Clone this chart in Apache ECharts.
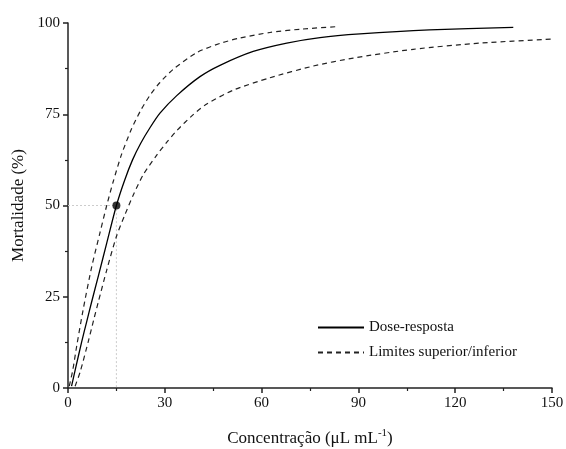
<!DOCTYPE html>
<html style="height: 100%">
<head>
<meta charset="utf-8">
<title>Mortalidade</title>
<script src="https://cdn.jsdelivr.net/npm/echarts@6/dist/echarts.min.js"></script>
</head>
<body style="height: 100%; margin: 0; background: #fff;">
<div id="container" style="width: 566px; height: 449px;"></div>
<script type="text/javascript">
// valores
var doseResposta = [[1.1,0.5],[2.5,6],[4.2,12.5],[5.8,18.2],[7.3,23.5],[9.5,31],[12,39.7],[15,50],[17.5,56.8],[20,62.5],[22.5,67],[25.4,71.3],[28.5,75.3],[33.7,80.1],[40.9,85.3],[47.1,88.4],[57.4,92.2],[67.8,94.5],[78.1,96],[90.5,97],[112,98.1],[138,98.8]];
var limiteSuperior = [[0.4,0.5],[1.5,5],[2.7,11.5],[4.7,21.5],[7.3,33],[9.9,42.5],[12,50],[14,56.5],[16.6,64],[19.7,71],[22.5,76],[25.4,80.2],[28.5,83.7],[32.6,87.3],[39.9,91.9],[47.1,94.4],[53.3,95.9],[62.6,97.4],[72,98.3],[83.3,99]];
var limiteInferior = [[2.2,0.5],[3.8,4.5],[6.3,12.8],[8,18.8],[9.4,23.6],[12,32.3],[15,41.5],[17.7,47.6],[20.2,52.8],[23.3,58.4],[27.5,63.8],[30.5,67.2],[33.7,70.5],[38.8,74.9],[43,77.8],[51.2,81.6],[62.6,85],[76,88.2],[88.4,90.4],[107,92.8],[127.7,94.5],[150,95.6]];
var cl50 = [15, 50];
var xTicks = [0, 30, 60, 90, 120, 150];
var yTicks = [0, 25, 50, 75, 100];

var fonte = '"Liberation Serif", "DejaVu Serif", serif';
var myChart = echarts.init(document.getElementById('container'));

function curva(nome, dados, tracejado) {
    return {
        name: nome,
        type: 'line',
        data: dados,
        symbol: 'none',
        smooth: 0.25,
        lineStyle: tracejado
            ? { color: '#222', width: 1.2, type: [5, 4] }
            : { color: '#000', width: 1.3 },
        itemStyle: { color: '#000' }
    };
}

var option = {
    animation: false,
    grid: { left: 68, right: 14, top: 23, bottom: 61, outerBoundsMode: 'none' },
    legend: {
        orient: 'vertical',
        left: 312,
        top: 315,
        itemWidth: 46,
        itemHeight: 10,
        itemGap: 10,
        itemStyle: { opacity: 0 },
        data: ['Dose-resposta', 'Limites superior/inferior'],
        textStyle: { fontFamily: fonte, fontSize: 15, color: '#111' }
    },
    xAxis: {
        type: 'value',
        min: xTicks[0], max: xTicks[xTicks.length - 1], interval: 30,
        name: 'Concentração (μL mL{sup|-1})',
        nameLocation: 'middle',
        nameGap: 40,
        nameTextStyle: {
            fontFamily: fonte, fontSize: 17, color: '#111',
            rich: { sup: { fontFamily: fonte, fontSize: 11, color: '#111', padding: [0, 0, 10, 0] } }
        },
        axisLine: { lineStyle: { color: '#222', width: 1.5 } },
        axisTick: { length: 5, lineStyle: { color: '#222', width: 1.5 } },
        minorTick: { show: true, splitNumber: 2, length: 3, lineStyle: { color: '#222', width: 1.2 } },
        splitLine: { show: false },
        axisLabel: { fontFamily: fonte, fontSize: 15, color: '#111', margin: 8 }
    },
    yAxis: {
        type: 'value',
        min: yTicks[0], max: yTicks[yTicks.length - 1], interval: 25,
        name: 'Mortalidade (%)',
        nameLocation: 'middle',
        nameGap: 41,
        nameTextStyle: { fontFamily: fonte, fontSize: 17, color: '#111' },
        axisLine: { show: true, lineStyle: { color: '#222', width: 1.5 } },
        axisTick: { show: true, length: 5, lineStyle: { color: '#222', width: 1.5 } },
        minorTick: { show: true, splitNumber: 2, length: 3, lineStyle: { color: '#222', width: 1.2 } },
        splitLine: { show: false },
        axisLabel: { fontFamily: fonte, fontSize: 15, color: '#111', margin: 8 }
    },
    series: [
        {
            name: 'ref',
            type: 'line',
            data: [[xTicks[0], cl50[1]], cl50, [cl50[0], yTicks[0]]],
            symbol: 'none',
            lineStyle: { color: '#ccc', width: 1, type: [2, 2] },
            z: 1
        },
        curva('Dose-resposta', doseResposta, false),
        curva('Limites superior/inferior', limiteSuperior, true),
        curva('Limites superior/inferior', limiteInferior, true),
        {
            name: 'CL50',
            type: 'scatter',
            data: [cl50],
            symbolSize: 8,
            itemStyle: { color: '#000' },
            z: 5
        }
    ]
};
myChart.setOption(option);
</script>
</body>
</html>
